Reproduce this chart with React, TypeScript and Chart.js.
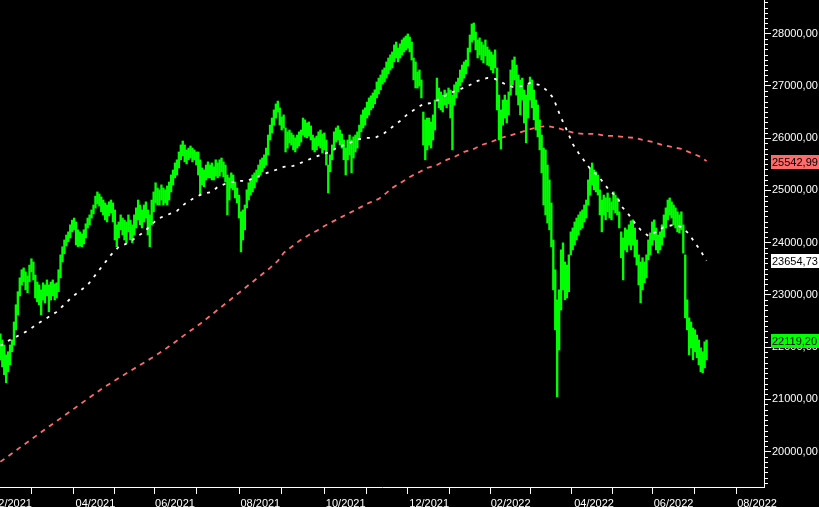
import React, { useEffect, useRef } from 'react';
import { Chart, registerables } from 'chart.js';

Chart.register(...registerables);

// trading-day index of the first bar (index 0 = first trading day of 02/2021)
const FIRST_INDEX = -6;

const highs: number[] = [
  22255, 22137, 22040, 21850, 21910, 22040,
  22137, 22480, 22810, 23060, 23325, 23480, 23515, 23440, 23360, 23570, 23690, 23630, 23380, 23245, 23190, 23095, 23230, 23190, 23285, 23190,
  23245, 23285, 23210, 23230, 23480, 23765, 23920, 24050, 24145, 24205, 24340, 24430, 24470, 24395, 24245, 24205, 24165, 24245, 24360, 24470, 24530, 24625, 24720,
  24890, 24970, 24930, 24875, 24815, 24760, 24720, 24780, 24815, 24760, 24625, 24340, 24395, 24530, 24470, 24430, 24395, 24530, 24430, 24340,
  24530, 24665, 24815, 24720, 24625, 24720, 24780, 24625, 24530, 24815, 24970, 25145, 25045, 25010, 25105, 25045, 25010, 25085, 25160, 25295, 25390,
  25525, 25585, 25735, 25870, 25945, 25870, 25775, 25810, 25850, 25810, 25775, 25735, 25735, 25585, 25430, 25390, 25485, 25545, 25485, 25525, 25450, 25585,
  25525, 25585, 25620, 25545, 25485, 25295, 25240, 25335, 25295, 25160, 25045, 24910, 24590, 24625, 24720, 25010, 25145, 25200, 25295, 25335, 25390, 25485,
  25585, 25620, 25680, 25810, 26060, 26250, 26385, 26540, 26655, 26710, 26580, 26405, 26445, 26195, 26120, 26155, 26100, 26060, 26005, 26060, 26120, 26155,
  26385, 26350, 26290, 26310, 26235, 26060, 26005, 26040, 26120, 26155, 26080, 26100, 25965, 25485, 25680, 25870, 26120, 26195, 26235, 26155, 26080, 25965,
  25810, 25965, 26060, 25965, 26025, 26060, 26120, 26250, 26445, 26540, 26580, 26690, 26770, 26810, 26865, 26925, 27075, 27150, 27210, 27305, 27345,
  27460, 27535, 27595, 27650, 27785, 27840, 27725, 27805, 27880, 27920, 27955, 27995, 27935, 27840, 27535, 27460, 27265, 27305, 27115, 26500, 26350, 26385,
  26385, 26310, 26445, 26730, 27150, 26960, 26885, 26825, 26920, 26865, 26960, 26920, 26825, 27020, 27075, 27150, 27305, 27400, 27460, 27495, 27725,
  27975, 28185, 28205, 28030, 27880, 27920, 27840, 27785, 27880, 27745, 27690, 27650, 27595, 27690, 27345, 26825, 26540, 26730, 26825, 26730, 26885,
  27305, 27495, 27555, 27400, 27210, 27115, 27150, 26920, 26825, 27020, 27170, 27115, 26920, 26730, 26635, 26350, 26060, 25810, 25775, 25485,
  25200, 24760, 24050, 23480, 22905, 23095, 23860, 23995, 23630, 23570, 23765, 24205, 24280, 24395, 24470, 24530, 24590, 24625, 24720, 24815, 25200, 25430, 25525,
  25390, 25355, 25295, 25010, 24815, 24910, 24855, 24950, 24855, 24780, 24970, 24910, 24855, 24590, 24205, 24090, 24280, 24245, 24340,
  24415, 24435, 24280, 24050, 23765, 23630, 23710, 23630, 23765, 24050, 24185, 24395, 24435, 24280, 24145, 24205, 24340, 24530, 24665, 24815, 24855, 24780,
  24720, 24665, 24590, 24530, 24590, 24340, 23765, 22905, 22560, 22480, 22365, 22330, 22230, 22135, 21985, 21910, 22100, 22135,
];

const lows: number[] = [
  21755, 21620, 21470, 21315, 21525, 21660,
  21910, 22040, 22330, 22615, 22980, 23190, 23250, 23095, 23040, 23250, 23440, 23285, 22940, 22865, 22810, 22615, 22900, 22845, 22980, 22675,
  22900, 22980, 22900, 22940, 23060, 23325, 23630, 23785, 23935, 24015, 24090, 24205, 24245, 23955, 23920, 23935, 23920, 23975, 24090, 24280, 24340, 24470, 24550,
  24660, 24740, 24700, 24590, 24530, 24435, 24395, 24510, 24570, 24395, 24050, 23920, 24090, 24245, 24145, 24050, 23995, 24205, 24050, 23995,
  24145, 24280, 24435, 24340, 24280, 24395, 24470, 24145, 23920, 24340, 24590, 24760, 24720, 24720, 24815, 24720, 24760, 24720, 24815, 24970, 25105,
  25240, 25295, 25430, 25585, 25660, 25545, 25505, 25585, 25620, 25545, 25585, 25485, 25295, 24910, 25105, 25065, 25200, 25240, 25240, 25200, 25200, 25275,
  25240, 25275, 25355, 25260, 25160, 24530, 24815, 25045, 25010, 24855, 24760, 24470, 23820, 24050, 24245, 24665, 24815, 24910, 24970, 25045, 25160, 25240,
  25295, 25355, 25430, 25485, 25680, 25965, 26100, 26250, 26385, 26500, 26250, 26155, 26195, 25735, 25810, 25910, 25870, 25775, 25735, 25810, 25850, 25925,
  26060, 26025, 26005, 26040, 25965, 25775, 25735, 25775, 25850, 25810, 25715, 25775, 25485, 24950, 25355, 25585, 25775, 25925, 25965, 25870, 25810, 25585,
  25295, 25585, 25680, 25335, 25620, 25735, 25810, 25965, 26120, 26195, 26250, 26385, 26445, 26540, 26580, 26655, 26770, 26845, 26925, 27035, 27075,
  27150, 27230, 27305, 27345, 27460, 27535, 27460, 27535, 27595, 27650, 27690, 27725, 27650, 27495, 27115, 26960, 26960, 27000, 26770, 25870, 25585, 25775,
  25870, 25810, 25965, 26155, 26730, 26580, 26540, 26500, 26635, 26580, 26655, 26385, 25775, 26635, 26770, 26885, 27000, 27075, 27150, 27230, 27380,
  27650, 27840, 27880, 27690, 27535, 27595, 27495, 27440, 27575, 27400, 27380, 27305, 27250, 27345, 26540, 25965, 25790, 26250, 26385, 26290, 26445,
  26825, 27020, 27115, 26825, 26635, 26445, 26730, 26290, 25910, 26385, 26730, 26580, 26350, 26155, 26025, 25775, 25335, 24720, 24530, 24375,
  24245, 23920, 23095, 22330, 21045, 21945, 22710, 23095, 22905, 22940, 23060, 23765, 23860, 23955, 24050, 24145, 24245, 24280, 24395, 24470, 24720, 24910, 25105,
  25010, 24970, 24910, 24530, 24205, 24530, 24435, 24590, 24470, 24435, 24625, 24570, 24530, 24280, 23710, 23285, 23860, 23820, 23955,
  23860, 23955, 23725, 23570, 23190, 22845, 23095, 23230, 23325, 23670, 23765, 23955, 24050, 23860, 23800, 23860, 23955, 24110, 24280, 24435, 24530, 24470,
  24340, 24280, 24205, 24185, 24245, 23800, 22560, 22330, 21850, 21985, 21755, 21910, 21795, 21660, 21525, 21505, 21600, 21755,
];

// fast moving average (white, dashed)
const fastMaIdx: number[] = [-6, -3, 7, 14, 23, 31, 39, 45, 51, 55, 60, 68, 75, 80, 85, 89, 93, 98, 103, 106, 111, 116, 121, 126, 130, 136, 140, 145, 150, 155, 159, 164, 168, 173, 177, 182, 187, 192, 196, 200, 204, 208, 212, 217, 222, 226, 230, 235, 240, 245, 249, 254, 258, 263, 267, 272, 276, 279, 281, 283, 285, 287, 289, 292, 295, 298, 302, 305, 308, 312, 314, 318, 321, 324, 328, 332, 336, 341, 345, 349, 352, 355, 357, 358];
const fastMaVal: number[] = [22023, 22099, 22290, 22463, 22673, 22960, 23190, 23477, 23764, 23917, 23994, 24205, 24453, 24530, 24606, 24740, 24836, 24932, 24970, 25066, 25142, 25181, 25181, 25257, 25315, 25391, 25449, 25468, 25544, 25621, 25678, 25736, 25831, 25889, 25965, 26004, 26004, 26099, 26214, 26329, 26463, 26559, 26654, 26674, 26788, 26865, 26922, 26999, 27095, 27152, 27133, 27037, 26980, 26999, 27056, 27018, 26903, 26769, 26578, 26386, 26233, 26061, 25889, 25717, 25563, 25410, 25276, 25142, 24989, 24874, 24702, 24530, 24377, 24243, 24128, 24205, 24300, 24338, 24300, 24166, 23994, 23841, 23707, 23655];

// slow moving average (red, dashed)
const slowMaIdx: number[] = [-6, 16, 39, 47, 56, 64, 73, 81, 89, 97, 115, 133, 137, 140, 144, 148, 153, 157, 161, 165, 170, 174, 179, 184, 189, 193, 196, 201, 205, 210, 214, 219, 224, 228, 233, 238, 242, 247, 252, 256, 261, 266, 271, 276, 281, 286, 290, 295, 301, 306, 310, 315, 321, 325, 330, 335, 340, 345, 350, 355, 358];
const slowMaVal: number[] = [19802, 20396, 21008, 21219, 21429, 21611, 21812, 22013, 22233, 22444, 22980, 23515, 23649, 23803, 23917, 24032, 24147, 24224, 24319, 24396, 24492, 24568, 24664, 24760, 24836, 24951, 25047, 25162, 25257, 25353, 25429, 25487, 25583, 25640, 25736, 25793, 25870, 25927, 26004, 26042, 26099, 26157, 26214, 26233, 26195, 26138, 26099, 26080, 26080, 26042, 26042, 26023, 26004, 25965, 25927, 25870, 25831, 25793, 25717, 25640, 25560];

// x axis: first trading day of each month
const monthTickIdx: number[] = [0, 20, 43, 63, 84, 106, 128, 150, 172, 193, 215, 236, 257, 277, 300, 319, 341, 363, 384];
const monthTickLabels: string[] = ['02/2021', '', '04/2021', '', '06/2021', '', '08/2021', '', '10/2021', '', '12/2021', '', '02/2022', '', '04/2022', '', '06/2022', '', '08/2022'];

// y axis
const yTickValues: number[] = [20000, 21000, 22000, 23000, 24000, 25000, 26000, 27000, 28000];
const yMinorStep = 100;

// last-value boxes
const lastLabels = [
  { value: 25542.99, text: '25542,99', bg: '#ff6a6a' },
  { value: 23654.73, text: '23654,73', bg: '#ffffff' },
  { value: 22119.2, text: '22119,20', bg: '#00ff00' },
];

const X_MIN = -6.2;
const X_MAX = 387.6;
const Y_MIN = 19320;
const Y_MAX = 28645;

const GREEN = '#00ff00';
const RED = '#ff6a6a';
const WHITE = '#ffffff';
const FONT_FAMILY = '"Liberation Sans", Arial, sans-serif';

function zeroPadding(s: any) {
  s.paddingLeft = 0;
  s.paddingRight = 0;
  s.paddingTop = 0;
  s.paddingBottom = 0;
}

export default function App() {
  const ref = useRef<HTMLCanvasElement | null>(null);

  useEffect(() => {
    document.body.style.margin = '0';
    document.body.style.background = '#000';
    const canvas = ref.current;
    if (!canvas) return;

    const bars = highs.map((h, k) => ({ x: FIRST_INDEX + k, y: [lows[k], h] }));
    const fast = fastMaIdx.map((x, k) => ({ x, y: fastMaVal[k] }));
    const slow = slowMaIdx.map((x, k) => ({ x, y: slowMaVal[k] }));
    const font = { family: FONT_FAMILY, size: 11 };

    const minorTicks = {
      id: 'minorTicks',
      afterDraw(chart: any) {
        const ys = chart.scales.y;
        const c = chart.ctx;
        const xr = chart.chartArea.right;
        c.save();
        c.strokeStyle = WHITE;
        c.lineWidth = 1;
        for (let v = Math.ceil(Y_MIN / yMinorStep) * yMinorStep; v <= Y_MAX; v += yMinorStep) {
          if (v % 1000 === 0) continue;
          const py = Math.round(ys.getPixelForValue(v)) + 0.5;
          c.beginPath();
          c.moveTo(xr, py);
          c.lineTo(xr + 4, py);
          c.stroke();
        }
        c.restore();
      },
    };

    const valueBoxes = {
      id: 'valueBoxes',
      afterDraw(chart: any) {
        const ys = chart.scales.y;
        const c = chart.ctx;
        const x0 = chart.chartArea.right + 7;
        c.save();
        c.font = `11px ${FONT_FAMILY}`;
        c.textAlign = 'left';
        c.textBaseline = 'middle';
        for (const l of lastLabels) {
          const py = Math.round(ys.getPixelForValue(l.value));
          const w = Math.ceil(c.measureText(l.text).width) + 2;
          c.fillStyle = l.bg;
          c.fillRect(x0, py - 7, w, 14);
          c.fillStyle = '#000';
          c.fillText(l.text, x0 + 1, py + 0.5);
        }
        c.restore();
      },
    };

    const chart = new Chart(canvas, {
      type: 'bar',
      data: {
        datasets: [
          {
            type: 'line',
            data: slow as any,
            borderColor: RED,
            borderWidth: 1.8,
            borderDash: [5, 5],
            pointRadius: 0,
            tension: 0,
            order: 1,
          },
          {
            type: 'line',
            data: fast as any,
            borderColor: WHITE,
            borderWidth: 1.8,
            borderDash: [3, 6],
            pointRadius: 0,
            tension: 0,
            order: 0,
          },
          {
            type: 'bar',
            data: bars as any,
            backgroundColor: GREEN,
            borderWidth: 0,
            barThickness: 1.7,
            order: 2,
          },
        ],
      },
      options: {
        animation: false,
        responsive: false,
        events: [],
        layout: { padding: 0, autoPadding: false } as any,
        plugins: { legend: { display: false }, tooltip: { enabled: false } },
        scales: {
          x: {
            type: 'linear',
            min: X_MIN,
            max: X_MAX,
            offset: false,
            grid: { display: true, drawOnChartArea: false, drawTicks: true, tickLength: 7, color: WHITE, lineWidth: 1 },
            border: { display: true, color: WHITE, width: 1 },
            ticks: {
              color: WHITE,
              font,
              padding: 3,
              maxRotation: 0,
              autoSkip: false,
              callback: (v: any) => {
                const k = monthTickIdx.indexOf(Number(v));
                return k >= 0 ? monthTickLabels[k] : null;
              },
            },
            afterBuildTicks: (s: any) => {
              s.ticks = monthTickIdx.map((v) => ({ value: v }));
            },
            afterFit: (s: any) => {
              s.height = 20;
              zeroPadding(s);
            },
          },
          y: {
            type: 'linear',
            position: 'right',
            min: Y_MIN,
            max: Y_MAX,
            grid: { display: true, drawOnChartArea: false, drawTicks: true, tickLength: 7, color: WHITE, lineWidth: 1 },
            border: { display: true, color: WHITE, width: 1 },
            ticks: {
              color: WHITE,
              font,
              padding: 1,
              callback: (v: any) => `${v},00`,
            },
            afterBuildTicks: (s: any) => {
              s.ticks = yTickValues.map((v) => ({ value: v }));
            },
            afterFit: (s: any) => {
              s.width = 55;
              zeroPadding(s);
            },
          },
        },
      },
      plugins: [minorTicks, valueBoxes],
    });

    return () => chart.destroy();
  }, []);

  return (
    <div style={{ position: 'fixed', left: 0, top: 0, width: 819, height: 507, background: '#000' }}>
      <canvas ref={ref} width={819} height={507} style={{ display: 'block' }} />
    </div>
  );
}
